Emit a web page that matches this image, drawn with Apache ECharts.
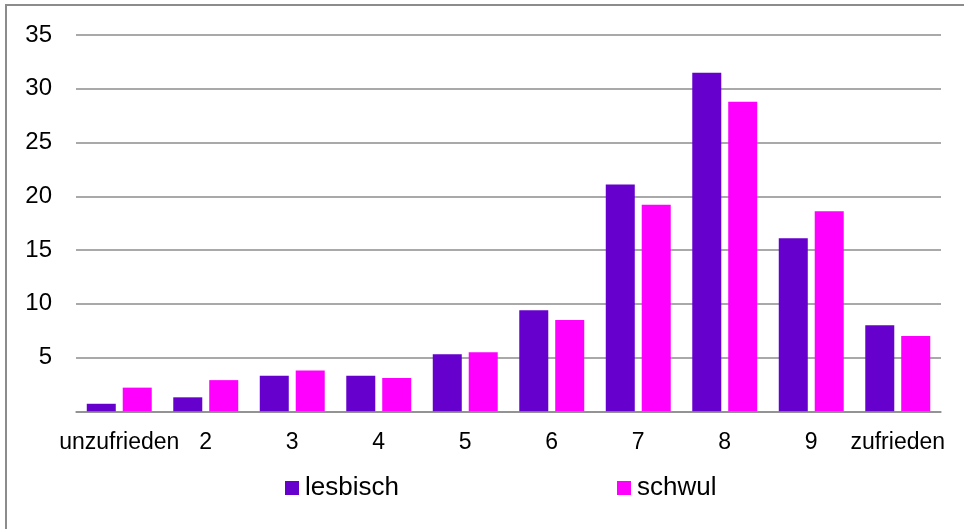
<!DOCTYPE html>
<html>
<head>
<meta charset="utf-8">
<style>
  html, body { margin: 0; padding: 0; background: #fff; }
  #chart { width: 964px; height: 529px; }
</style>
<script src="https://cdn.jsdelivr.net/npm/echarts@6/dist/echarts.min.js"></script>
</head>
<body>
<div id="chart"></div>
<script>
// Zufriedenheit (Skala 1–10), Anteile in Prozent
const categories = ['unzufrieden', '2', '3', '4', '5', '6', '7', '8', '9', 'zufrieden'];
const lesbisch = [0.7, 1.3, 3.3, 3.3, 5.3, 9.4, 21.1, 31.5, 16.1, 8.0];
const schwul = [2.2, 2.9, 3.8, 3.1, 5.5, 8.5, 19.2, 28.8, 18.6, 7.0];
const seriesNames = ['lesbisch', 'schwul'];
const seriesColors = ['#6600cc', '#ff00ff'];

const FONT = '"Liberation Sans", Arial, sans-serif';
const chart = echarts.init(document.getElementById('chart'), null, { renderer: 'canvas' });

const legendText = { fontFamily: FONT, fontSize: 26, color: '#000', padding: [0, 0, 0, 1] };

chart.setOption({
  animation: false,
  backgroundColor: '#ffffff',
  graphic: [{
    type: 'rect',
    shape: { x: 6, y: 5, width: 1000, height: 600 },
    style: { fill: 'none', stroke: '#8c8c8c', lineWidth: 2 },
    silent: true
  }],
  grid: { left: 76, right: 23, top: 35, bottom: 117.7, containLabel: false },
  legend: [
    {
      data: [seriesNames[0]], left: 280, top: 470,
      itemWidth: 14, itemHeight: 14, icon: 'rect', textStyle: legendText
    },
    {
      data: [seriesNames[1]], left: 612, top: 470,
      itemWidth: 14, itemHeight: 14, icon: 'rect', textStyle: legendText
    }
  ],
  xAxis: {
    type: 'category',
    data: categories,
    axisTick: { show: false },
    axisLine: { show: true, lineStyle: { color: '#8c8c8c', width: 1.5 } },
    axisLabel: { interval: 0, margin: 20, fontFamily: FONT, fontSize: 23, color: '#000' }
  },
  yAxis: {
    type: 'value',
    min: 0, max: 35, interval: 5,
    axisLine: { show: false },
    axisTick: { show: false },
    splitLine: { show: true, lineStyle: { color: '#8c8c8c', width: 1.5 } },
    axisLabel: {
      margin: 24, fontFamily: FONT, fontSize: 24, color: '#000',
      formatter: v => (v === 0 ? '' : String(v))
    }
  },
  series: [
    {
      name: seriesNames[0], type: 'bar', data: lesbisch,
      barWidth: 29, barGap: '24%',
      itemStyle: { color: seriesColors[0] }
    },
    {
      name: seriesNames[1], type: 'bar', data: schwul,
      barWidth: 29, barGap: '24%',
      itemStyle: { color: seriesColors[1] }
    }
  ]
});
</script>
</body>
</html>
